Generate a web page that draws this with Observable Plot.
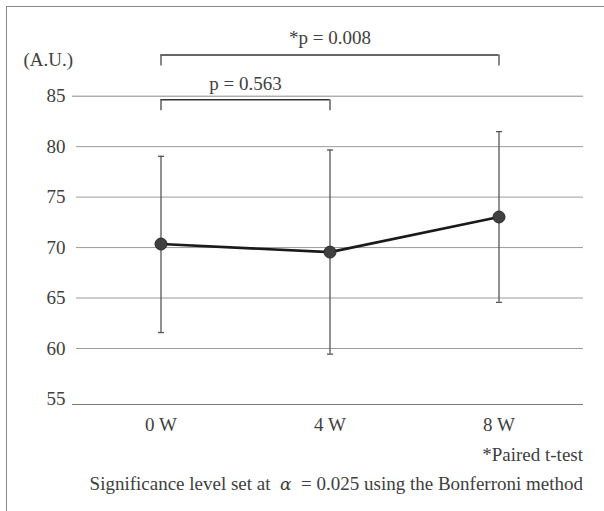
<!DOCTYPE html>
<html><head><meta charset="utf-8">
<script src="https://cdn.jsdelivr.net/npm/d3@7"></script>
<script src="https://cdn.jsdelivr.net/npm/@observablehq/plot@0.6"></script>
<style>
body{margin:0;background:#fff;}
#wrap{position:relative;width:604px;height:511px;overflow:hidden;font-family:"Liberation Serif","Times New Roman","DejaVu Serif",serif;color:#404040;}
#border{position:absolute;left:6px;top:6px;width:700px;height:700px;border:1.5px solid #8a8a8a;box-sizing:border-box;}
#chart{position:absolute;left:0;top:0;}
.txt{position:absolute;font-size:19px;line-height:22px;white-space:nowrap;}
#unit{right:531px;top:49px;}
#note1{right:21px;top:444px;}
#note2{right:21px;top:473px;}
</style></head>
<body>
<div id="wrap">
  <div id="border"></div>
  <div id="chart"></div>
  <div class="txt" id="unit"></div>
  <div class="txt" id="note1"></div>
  <div class="txt" id="note2"></div>
</div>
<script>
// ---- data ----
const weeks = [0, 4, 8];
const weekSuffix = " W";
const means = [70.35, 69.55, 73.03];
const upperErr = [79.04, 79.67, 81.49];
const lowerErr = [61.58, 59.44, 64.57];
const yTicks = [55, 60, 65, 70, 75, 80, 85];
const yDomain = [54.45, 92.5];
const xDomain = [-2, 10];
const bracketFrom = [0, 0];
const bracketTo = [8, 4];
const bracketY = [89.08, 84.65];
const bracketLabelY = [90.82, 86.17];
const bracketLabels = ["*p = 0.008", "p = 0.563"];
const unitLabel = "(A.U.)";
const note1 = "*Paired t-test";
const note2 = "Significance level set at&nbsp; <span style=\"font-family:'DejaVu Serif';font-style:italic;font-size:17px\">α</span>&nbsp; = 0.025 using the Bonferroni method";

// ---- tables ----
const points = weeks.map((w, i) => ({week: w, mean: means[i], lo: lowerErr[i], hi: upperErr[i]}));
const brackets = bracketFrom.map((f, i) => ({from: f, to: bracketTo[i], y: bracketY[i], ly: bracketLabelY[i], mid: (f + bracketTo[i]) / 2, label: bracketLabels[i]}));
const bracketEnds = brackets.flatMap(b => [{x: b.from, y: b.y}, {x: b.to, y: b.y}]);

const capSymbol = {draw(ctx) { ctx.moveTo(-3, 0); ctx.lineTo(3, 0); }};
const serif = "'Liberation Serif', 'Times New Roman', 'DejaVu Serif', serif";

const chart = Plot.plot({
  width: 604,
  height: 440,
  marginLeft: 76,
  marginRight: 21,
  marginTop: 20,
  marginBottom: 36,
  style: {fontSize: "19px", fontFamily: serif, color: "#404040", background: "transparent"},
  x: {domain: xDomain, axis: null},
  y: {domain: yDomain, axis: null},
  marks: [
    Plot.gridY(yTicks.slice(1, -1), {stroke: "#9a9a9a", strokeOpacity: 1, strokeWidth: 1}),
    Plot.gridY(yTicks.slice(-1), {stroke: "#8a8a8a", strokeOpacity: 1, strokeWidth: 1, insetLeft: -4}),
    Plot.ruleY([yDomain[0]], {stroke: "#7a7a7a", strokeWidth: 1.2, insetLeft: -4}),
    Plot.axisY(yTicks, {tickSize: 0, tickPadding: 11, fill: "#404040", fontFamily: serif}),
    Plot.axisX(weeks, {tickSize: 0, tickPadding: 13, tickFormat: d => d + weekSuffix, fill: "#404040", fontFamily: serif}),
    Plot.ruleX(points, {x: "week", y1: "lo", y2: "hi", stroke: "#555", strokeWidth: 1.3}),
    Plot.dot(points, {x: "week", y: "hi", symbol: capSymbol, stroke: "#555", strokeWidth: 1.3, r: 3}),
    Plot.dot(points, {x: "week", y: "lo", symbol: capSymbol, stroke: "#555", strokeWidth: 1.3, r: 3}),
    Plot.line(points, {x: "week", y: "mean", stroke: "#1a1a1a", strokeWidth: 2.6}),
    Plot.dot(points, {x: "week", y: "mean", r: 6, fill: "#404040", stroke: "#2a2a2a", strokeWidth: 1}),
    Plot.ruleY(brackets, {y: "y", x1: "from", x2: "to", stroke: "#333", strokeWidth: 1.4}),
    Plot.ruleX(bracketEnds, {x: "x", y1: "y", y2: "y", insetBottom: -11, stroke: "#555", strokeWidth: 1.4}),
    Plot.text(brackets, {x: "mid", y: "ly", text: "label", fill: "#404040", fontSize: 19, fontFamily: serif})
  ]
});
document.getElementById("chart").appendChild(chart);
document.getElementById("unit").textContent = unitLabel;
document.getElementById("note1").textContent = note1;
document.getElementById("note2").innerHTML = note2;
</script>
</body></html>
